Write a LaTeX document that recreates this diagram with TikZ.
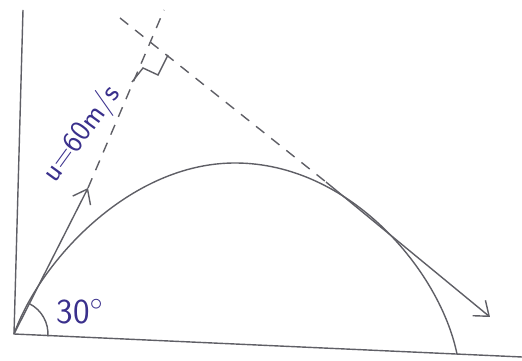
\documentclass[tikz,border=0pt]{standalone}
\usepackage{amsmath,amssymb}
\usepackage{tikz}
\usetikzlibrary{arrows.meta,positioning,calc}

\definecolor{pencil}{RGB}{95,95,102}
\definecolor{ink}{RGB}{58,48,140}

\begin{document}
\begin{tikzpicture}[x=0.02cm, y=0.02cm,
    axis/.style={draw=pencil, line width=0.8pt},
    guide/.style={draw=pencil, line width=0.8pt, dash pattern=on 6pt off 5pt},
    vec/.style={draw=pencil, line width=0.8pt, -{Straight Barb[length=2.6mm, width=4mm]}},
    note/.style={text=ink, font=\sffamily\fontsize{17}{20}\selectfont, inner sep=0pt}
]
    \useasboundingbox (0,0) rectangle (522,361);

    \coordinate (o) at (14,27);
    \coordinate (ytop) at (23,351);
    \coordinate (xend) at (522,4);
    \coordinate (top) at (235,198);
    \coordinate (land) at (457,7);
    \coordinate (v0) at (88,173);
    \coordinate (t1) at (164,351);
    \coordinate (s2) at (120,343);
    \coordinate (v1) at (326,179);
    \coordinate (v1tip) at (490,44);

    % axes
    \draw[axis] (ytop) -- (o) -- (xend);

    % trajectory
    \draw[axis] (o) .. controls (40,100) and (130,198) .. (top)
                    .. controls (350,198) and (440,90) .. (land);

    % velocities and their lines
    \draw[vec] (o) -- (v0);
    \draw[guide] (v0) -- (t1);
    \draw[guide] (s2) -- (v1);
    \draw[vec] (v1) -- (v1tip);
    \draw[axis] (132,279) -- (143,293) -- (158,286) -- (168,306);

    % angle
    \draw[axis] (o) ++(63:34) arc[start angle=63, end angle=-4, radius=0.68cm];

    \node[note, rotate=54] (speed) at (82,227) {u=60m/s};
    \node[note, font=\sffamily\fontsize{20}{24}\selectfont] (angle) at (80,49) {30$^{\circ}$};
\end{tikzpicture}
\end{document}
